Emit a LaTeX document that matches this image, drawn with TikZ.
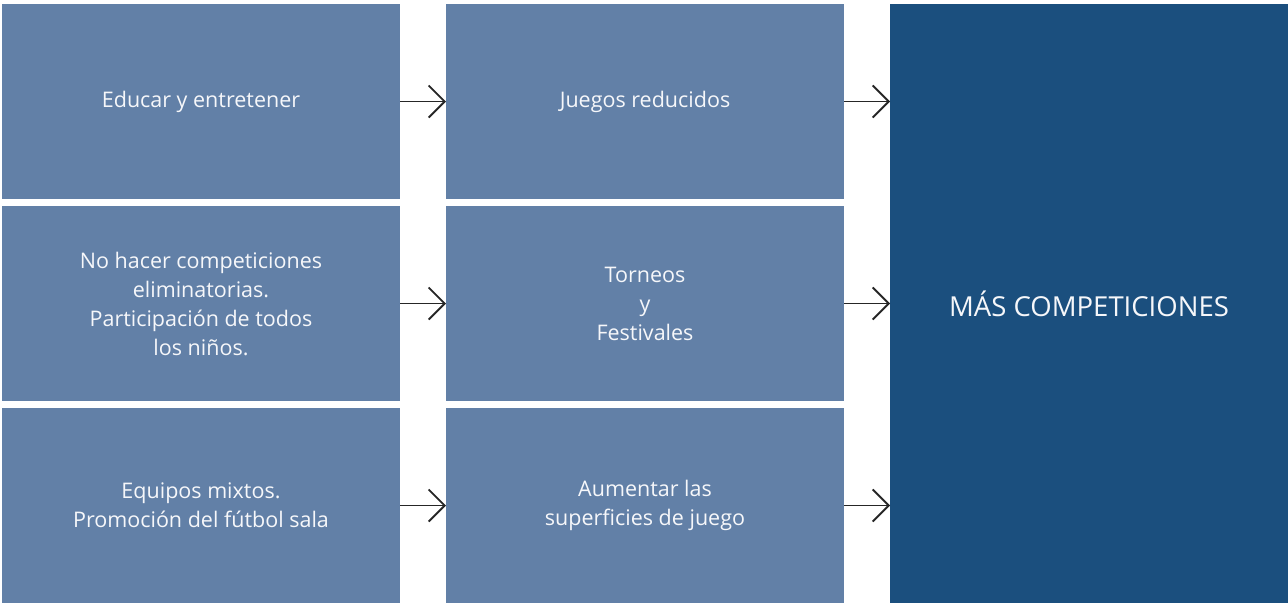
\documentclass[tikz,border=0pt]{standalone}
\usepackage{fontspec}
\setmainfont{Open Sans}
\usepackage{xcolor}
\usetikzlibrary{arrows.meta, positioning}

\definecolor{boxblue}{RGB}{98,128,167}
\definecolor{darkblue}{RGB}{27,79,126}

\begin{document}
\begin{tikzpicture}[
    x=1pt, y=-1pt,
    node distance=7pt and 46pt,
    box/.style={rectangle, minimum width=398pt, minimum height=195pt, inner sep=0pt, outer sep=0pt, align=center, fill=boxblue, text=white!94!boxblue, font=\fontsize{21.5}{29}\selectfont},
    arrow/.style={-{Straight Barb[length=16pt, width=32pt]}, line width=1.8pt, black!85}
]
\useasboundingbox (0,0) rectangle (1288,606);

\node[box, anchor=north west] (educar) at (2,4) {Educar y entretener};
\node[box, below=of educar] (nohacer) {No hacer competiciones\\eliminatorias.\\Participación de todos\\los niños.};
\node[box, below=of nohacer] (equipos) {Equipos mixtos.\\Promoción del fútbol sala};

\node[box, right=of educar] (juegos) {Juegos reducidos};
\node[box, right=of nohacer] (torneos) {Torneos\\y\\Festivales};
\node[box, right=of equipos] (aumentar) {Aumentar las\\superficies de juego};

\node[box, anchor=north west, fill=darkblue, minimum height=599pt, font=\fontsize{27.5}{32}\selectfont] (mas) at (890,4) {MÁS COMPETICIONES};

\draw[arrow] (educar) -- (juegos);
\draw[arrow] (nohacer) -- (torneos);
\draw[arrow] (equipos) -- (aumentar);

\draw[arrow] (juegos.east) -- (juegos.east -| mas.west);
\draw[arrow] (torneos.east) -- (torneos.east -| mas.west);
\draw[arrow] (aumentar.east) -- (aumentar.east -| mas.west);

\end{tikzpicture}
\end{document}
